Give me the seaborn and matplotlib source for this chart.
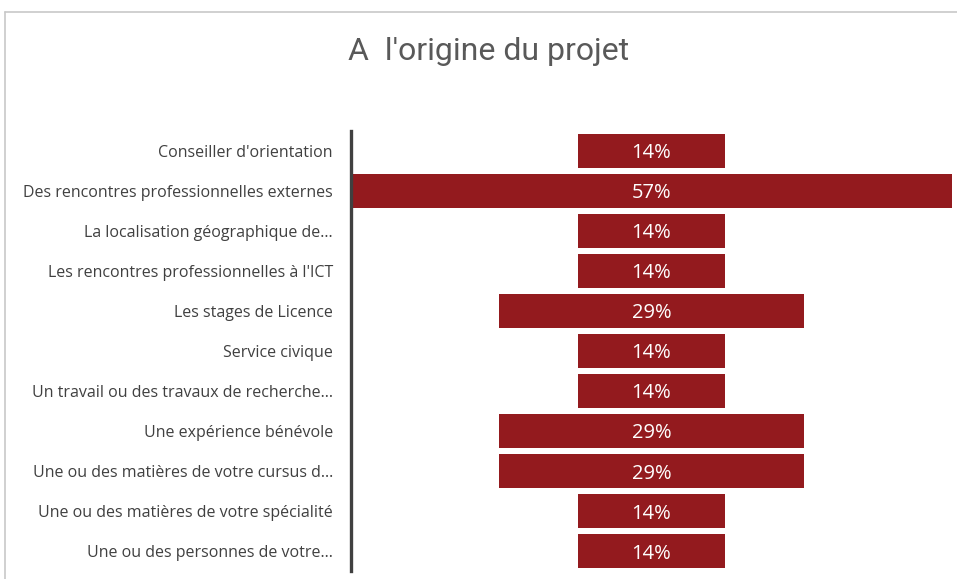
import numpy as np
import pandas as pd
import matplotlib.pyplot as plt
from matplotlib.lines import Line2D
import seaborn as sns

categories = ["Conseiller d'orientation",
              "Des rencontres professionnelles externes",
              "La localisation géographique de…",
              "Les rencontres professionnelles à l'ICT",
              "Les stages de Licence",
              "Service civique",
              "Un travail ou des travaux de recherche…",
              "Une expérience bénévole",
              "Une ou des matières de votre cursus d…",
              "Une ou des matières de votre spécialité",
              "Une ou des personnes de votre…"]
values = [14, 57, 14, 14, 29, 14, 14, 29, 29, 14, 14]
labels = ["14%", "57%", "14%", "14%", "29%", "14%", "14%", "29%", "29%", "14%", "14%"]

sns.set_style("white")
plt.rcParams['font.family'] = ['Open Sans', 'DejaVu Sans']

df = pd.DataFrame({"cat": categories, "val": values})
vmax = max(values)
df["right"] = (vmax + df["val"]) / 2   # right edge of the centred bar
df["left"] = (vmax - df["val"]) / 2    # white mask on the left

fig = plt.figure(figsize=(9.57, 5.79), dpi=100)
ax = fig.add_axes([0.3668, 0.0138, 0.628, 0.760])

red = "#931A1E"
sns.barplot(x="right", y="cat", data=df, color=red, width=0.86, ax=ax,
            saturation=1, linewidth=0)
sns.barplot(x="left", y="cat", data=df, color="white", width=0.9, ax=ax,
            saturation=1, linewidth=0)

for i, lab in enumerate(labels):
    ax.text(vmax / 2, i, lab, ha="center", va="center_baseline", color="white",
            fontsize=14.5, family="Open Sans")

ax.set_xlim(0, vmax)
ax.set_ylim(len(categories) - 0.5, -0.5)
ax.set_xlabel("")
ax.set_ylabel("")
ax.set_xticks([])
for s in ["top", "right", "bottom"]:
    ax.spines[s].set_visible(False)
ax.spines["left"].set_color("#404040")
ax.spines["left"].set_linewidth(2.4)
ax.spines["left"].set_zorder(5)
ax.tick_params(axis="y", length=0, pad=13, labelsize=11.5, labelcolor="#404040")

fig.text(0.511, 1 - 51 / 579, "A  l'origine du projet", ha="center", va="center",
         fontsize=23, color="#595959", family="Roboto")

# outer chart frame (only top and left edges are visible)
fig.add_artist(Line2D([5 / 957, 5 / 957], [0, 1 - 12 / 579], transform=fig.transFigure,
                      color="#c8c8c8", lw=1.2))
fig.add_artist(Line2D([5 / 957, 1], [1 - 12 / 579, 1 - 12 / 579], transform=fig.transFigure,
                      color="#c8c8c8", lw=1.2))

plt.savefig("out.png", dpi=100)
